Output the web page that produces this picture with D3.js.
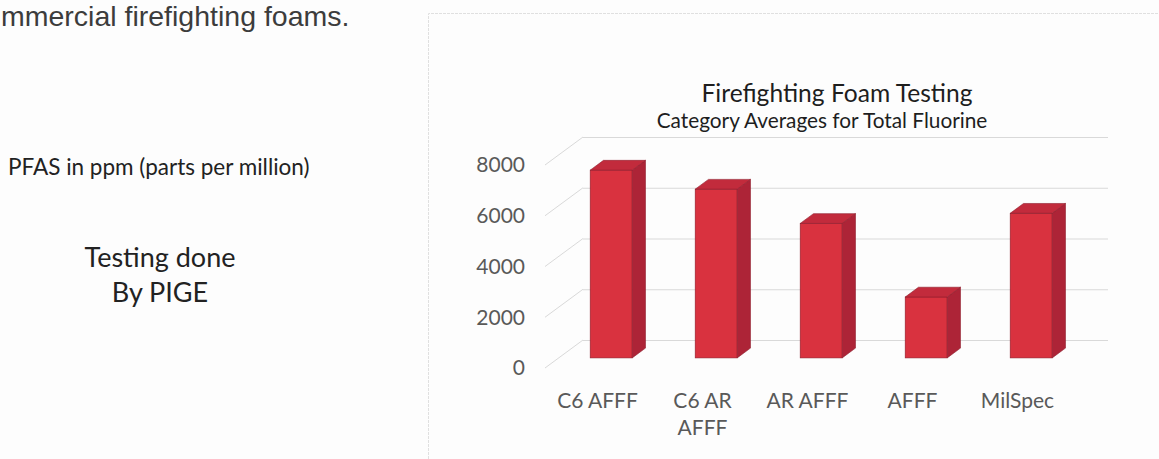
<!DOCTYPE html>
<html>
<head>
<meta charset="utf-8">
<script src="https://cdn.jsdelivr.net/npm/d3@7"></script>
<style>
  html, body { margin: 0; padding: 0; background: #fdfdfd; }
  svg { display: block; }
</style>
</head>
<body>
<svg id="chart" width="1159" height="459"></svg>
<script>
// data
var categories = ["C6 AFFF", "C6 AR AFFF", "AR AFFF", "AFFF", "MilSpec"];
var values = [7400, 6650, 5300, 2400, 5700];
var yTicks = [0, 2000, 4000, 6000, 8000];

var titleText = "Firefighting Foam Testing";
var subtitleText = "Category Averages for Total Fluorine";

var W = 1159, H = 459;
var svg = d3.select("#chart");

// colours
var color = {
    front: "#d9323f",
    side: "#ad2437",
    top: "#c22b3c",
    edge: "#8f1c2b",
    grid: "#d9d9d9",
    axis: "#595959",
    title: "#1e1e1e"
};

// 3d depth offset (front edge of the floor vs back wall)
var depth = { dx: 38, dy: 28 };
var barFront = 0.64, barBack = 0.29;   // bar faces as a share of the depth

// back wall scales
var x = d3.scaleBand()
    .domain(categories)
    .range([583, 1108])
    .paddingInner(0.6)
    .paddingOuter(0.3);

var y = d3.scaleLinear()
    .domain([0, 8000])
    .range([340, 137]);

//--- left side texts (the first line is cut by the page edge in the scan)
svg.append("text")
    .attr("x", 1).attr("y", 26)
    .attr("font-family", "Liberation Sans, Arial, sans-serif")
    .attr("font-size", 28.5)
    .attr("fill", "#3c3c3c")
    .text("mmercial firefighting foams.");

svg.append("text")
    .attr("x", 8).attr("y", 175)
    .attr("font-family", "Lato, sans-serif")
    .attr("font-size", 22.5)
    .attr("fill", "#222")
    .text("PFAS in ppm (parts per million)");

svg.append("text")
    .attr("x", 160).attr("y", 267)
    .attr("text-anchor", "middle")
    .attr("font-family", "Lato, sans-serif")
    .attr("font-size", 27)
    .attr("fill", "#222")
    .text("Testing done");

svg.append("text")
    .attr("x", 160).attr("y", 302)
    .attr("text-anchor", "middle")
    .attr("font-family", "Lato, sans-serif")
    .attr("font-size", 27)
    .attr("fill", "#222")
    .text("By PIGE");

//--- chart frame (only top and left edge show)
svg.append("path")
    .attr("d", "M428.5," + H + "V13.5H" + W)
    .attr("fill", "none")
    .attr("stroke", "#e0e0e0")
    .attr("stroke-width", 1)
    .attr("stroke-dasharray", "3,1");

//--- titles
svg.append("text")
    .attr("x", 837).attr("y", 102)
    .attr("text-anchor", "middle")
    .attr("font-family", "Lato, sans-serif")
    .attr("font-size", 24.6)
    .attr("fill", color.title)
    .text(titleText);

svg.append("text")
    .attr("x", 822).attr("y", 128)
    .attr("text-anchor", "middle")
    .attr("font-family", "Lato, sans-serif")
    .attr("font-size", 20.8)
    .attr("fill", color.title)
    .text(subtitleText);

//--- back wall gridlines and side wall lines
var grid = svg.append("g");
grid.selectAll("line.back")
    .data(yTicks)
    .enter().append("line")
    .attr("class", "back")
    .attr("x1", x.range()[0]).attr("x2", x.range()[1])
    .attr("y1", function(d){ return y(d) + 0.5; })
    .attr("y2", function(d){ return y(d) + 0.5; })
    .attr("stroke", color.grid)
    .attr("stroke-width", 1);

grid.selectAll("line.side")
    .data(yTicks)
    .enter().append("line")
    .attr("class", "side")
    .attr("x1", x.range()[0] - depth.dx)
    .attr("y1", function(d){ return y(d) + depth.dy; })
    .attr("x2", x.range()[0])
    .attr("y2", function(d){ return y(d); })
    .attr("stroke", color.grid)
    .attr("stroke-width", 1);

// y axis labels at the front edge
svg.append("g").selectAll("text")
    .data(yTicks)
    .enter().append("text")
    .attr("x", 525)
    .attr("y", function(d){ return y(d) + depth.dy; })
    .attr("dy", "0.35em")
    .attr("text-anchor", "end")
    .attr("font-family", "Lato, sans-serif")
    .attr("font-size", 21)
    .attr("fill", color.axis)
    .text(function(d){ return d; });

//--- bars
var bw = x.bandwidth();
var sdx = depth.dx * (barFront - barBack);
var sdy = depth.dy * (barFront - barBack);

var bars = svg.append("g").selectAll("g")
    .data(categories.map(function(c, i){ return { cat: c, val: values[i] }; }))
    .enter().append("g");

function frontX(d){ return x(d.cat) - depth.dx * barFront; }
function frontTop(d){ return y(d.val) + depth.dy * barFront; }
function frontBottom(){ return y(0) + depth.dy * barFront; }

bars.append("rect")
    .attr("x", frontX)
    .attr("y", frontTop)
    .attr("width", bw)
    .attr("height", function(d){ return frontBottom() - frontTop(d); })
    .attr("fill", color.front)
    .attr("stroke", color.edge)
    .attr("stroke-width", 0.6);

bars.append("path")
    .attr("d", function(d){
        var x0 = frontX(d) + bw, t = frontTop(d), b = frontBottom();
        return "M" + x0 + "," + t + "L" + (x0 + sdx) + "," + (t - sdy) +
            "L" + (x0 + sdx) + "," + (b - sdy) + "L" + x0 + "," + b + "Z";
    })
    .attr("fill", color.side)
    .attr("stroke", color.edge)
    .attr("stroke-width", 0.6);

bars.append("path")
    .attr("d", function(d){
        var x0 = frontX(d), t = frontTop(d);
        return "M" + x0 + "," + t + "L" + (x0 + sdx) + "," + (t - sdy) +
            "L" + (x0 + bw + sdx) + "," + (t - sdy) + "L" + (x0 + bw) + "," + t + "Z";
    })
    .attr("fill", color.top)
    .attr("stroke", color.edge)
    .attr("stroke-width", 0.6);

//--- category labels on the front edge, wrapped like excel does
var labels = svg.append("g").selectAll("text")
    .data(categories)
    .enter().append("text")
    .attr("x", function(d){ return x(d) + bw / 2 - depth.dx; })
    .attr("y", 408)
    .attr("text-anchor", "middle")
    .attr("font-family", "Lato, sans-serif")
    .attr("font-size", 21)
    .attr("fill", color.axis)
    .each(function(d){
        var el = d3.select(this);
        var words = d.split(" "), line = [], lines = [];
        var probe = el.append("tspan");
        words.forEach(function(w){
            line.push(w);
            probe.text(line.join(" "));
            if (probe.node().getComputedTextLength() > 92 && line.length > 1) {
                line.pop();
                lines.push(line.join(" "));
                line = [w];
            }
        });
        lines.push(line.join(" "));
        probe.remove();
        lines.forEach(function(l, i){
            el.append("tspan")
                .attr("x", el.attr("x"))
                .attr("dy", i == 0 ? 0 : 27)
                .text(l);
        });
    });
</script>
</body>
</html>
